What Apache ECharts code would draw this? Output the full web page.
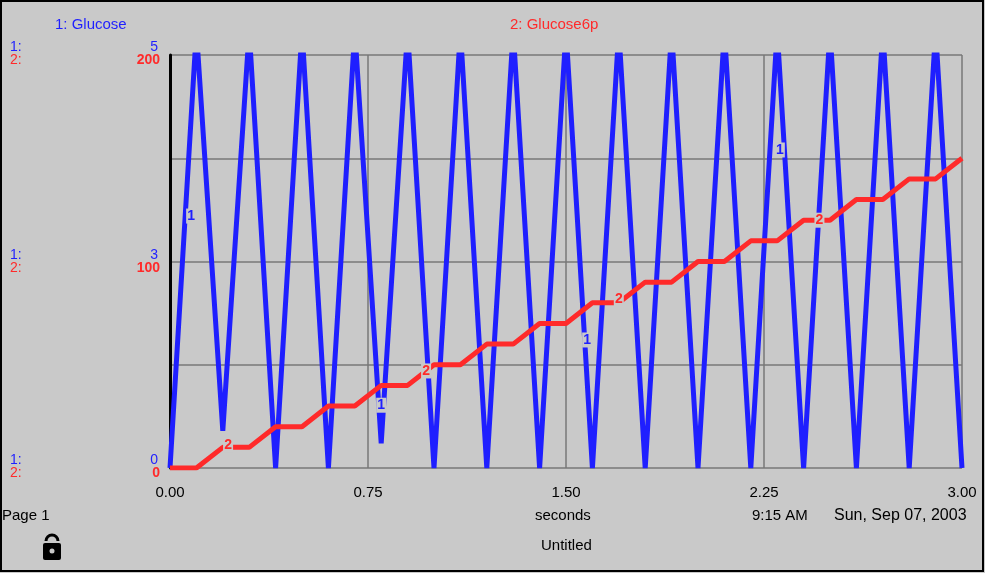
<!DOCTYPE html>
<html>
<head>
<meta charset="utf-8">
<script src="https://cdn.jsdelivr.net/npm/echarts@6/dist/echarts.min.js"></script>
<style>
  html, body { margin: 0; padding: 0; background: #c9c9c9; }
  #chart { width: 985px; height: 573px; }
</style>
</head>
<body>
<div id="chart"></div>
<script>
// time (seconds) and values
const glucoseTime = [0, 0.1, 0.2, 0.3, 0.4, 0.5, 0.6, 0.7, 0.8, 0.9, 1.0, 1.1, 1.2, 1.3, 1.4, 1.5,
  1.6, 1.7, 1.8, 1.9, 2.0, 2.1, 2.2, 2.3, 2.4, 2.5, 2.6, 2.7, 2.8, 2.9, 3.0];
const glucose = [0, 5.3, 0.45, 5.3, 0, 5.3, 0, 5.3, 0.3, 5.3, 0, 5.3, 0, 5.3, 0, 5.3,
  0, 5.3, 0, 5.3, 0, 5.3, 0, 5.3, 0, 5.3, 0, 5.3, 0, 5.3, 0];

const g6pTime = [0, 0.1, 0.2, 0.3, 0.4, 0.5, 0.6, 0.7, 0.8, 0.9, 1.0, 1.1, 1.2, 1.3, 1.4, 1.5,
  1.6, 1.7, 1.8, 1.9, 2.0, 2.1, 2.2, 2.3, 2.4, 2.5, 2.6, 2.7, 2.8, 2.9, 3.0];
const g6p = [0, 0, 10, 10, 20, 20, 30, 30, 40, 40, 50, 50, 60, 60, 70, 70,
  80, 80, 90, 90, 100, 100, 110, 110, 120, 120, 130, 130, 140, 140, 150];

const glucoseMarks = [[0.08, 3.05], [0.8, 0.76], [1.58, 1.55], [2.31, 3.85]];
const g6pMarks = [[0.22, 11], [0.97, 47], [1.7, 82], [2.46, 120]];

const xTicks = ["0.00", "0.75", "1.50", "2.25", "3.00"];

const BLUE = "#1f1fff", RED = "#ff2a2a";

function pairs(xs, ys) { return xs.map((x, i) => [x, ys[i]]); }

function marks(list, text, color) {
  return {
    symbol: "rect", symbolSize: [10, 15],
    itemStyle: { color: "#c9c9c9" },
    label: { show: true, position: "inside", formatter: text, color: color,
      fontFamily: "Liberation Sans", fontSize: 14, fontWeight: "bold" },
    data: list.map(p => ({ coord: p }))
  };
}

var chart = echarts.init(document.getElementById("chart"));
const font = "Liberation Sans";

const sideText = [];
[[55, 5, 200], [263, 3, 100], [468, 0, 0]].forEach(function (r) {
  sideText.push({ type: "text", left: 10, top: r[0] - 15, style: { text: "1:", fill: BLUE, font: "14px " + font } });
  sideText.push({ type: "text", left: 10, top: r[0] - 2, style: { text: "2:", fill: RED, font: "14px " + font } });
  sideText.push({ type: "text", right: 985 - 158, top: r[0] - 15, style: { text: String(r[1]), fill: BLUE, font: "14px " + font, align: "right" } });
  sideText.push({ type: "text", right: 985 - 160, top: r[0] - 2, style: { text: String(r[2]), fill: RED, font: "bold 14px " + font, align: "right" } });
});

chart.setOption({
  backgroundColor: "#c9c9c9",
  animation: false,
  grid: { left: 170, right: 23, top: 55, bottom: 105 },
  xAxis: {
    type: "value", min: 0, max: 3, interval: 0.75,
    axisLine: { show: false }, axisTick: { show: false },
    axisLabel: { color: "#000", fontFamily: font, fontSize: 15, margin: 17,
      formatter: v => xTicks[Math.round(v / 0.75)] },
    splitLine: { show: true, lineStyle: { color: "#777", width: 1.5 } }
  },
  yAxis: [
    { type: "value", min: 0, max: 5, interval: 1.25,
      axisLine: { show: true, lineStyle: { color: "#000", width: 3 } },
      axisTick: { show: false }, axisLabel: { show: false },
      splitLine: { show: true, lineStyle: { color: "#777", width: 1.5 } } },
    { type: "value", min: 0, max: 200, interval: 50, position: "left",
      axisLine: { show: false }, axisTick: { show: false }, axisLabel: { show: false },
      splitLine: { show: false } }
  ],
  series: [
    { name: "1: Glucose", type: "line", data: pairs(glucoseTime, glucose), yAxisIndex: 0,
      symbol: "none", clip: true, lineStyle: { color: BLUE, width: 5 }, z: 3,
      markPoint: marks(glucoseMarks, "1", BLUE) },
    { name: "2: Glucose6p", type: "line", data: pairs(g6pTime, g6p), yAxisIndex: 1,
      symbol: "none", lineStyle: { color: RED, width: 5 }, z: 4,
      markPoint: marks(g6pMarks, "2", RED) }
  ],
  graphic: sideText.concat([
    { type: "rect", shape: { x: 1, y: 1, width: 982, height: 570 }, style: { fill: "none", stroke: "#000", lineWidth: 2 } },
    { type: "text", left: 55, top: 17, style: { text: "1: Glucose", fill: BLUE, font: "15px " + font } },
    { type: "text", left: 510, top: 17, style: { text: "2: Glucose6p", fill: RED, font: "15px " + font } },
    { type: "text", left: 2, top: 508, style: { text: "Page 1", fill: "#000", font: "15px " + font } },
    { type: "text", left: 535, top: 508, style: { text: "seconds", fill: "#000", font: "15px " + font } },
    { type: "text", left: 752, top: 508, style: { text: "9:15 AM", fill: "#000", font: "15px " + font } },
    { type: "text", left: 834, top: 508, style: { text: "Sun, Sep 07, 2003", fill: "#000", font: "16px " + font } },
    { type: "text", left: 541, top: 538, style: { text: "Untitled", fill: "#000", font: "15px " + font } },
    { type: "arc", shape: { cx: 52, cy: 541, r: 6, startAngle: Math.PI, endAngle: 0 }, style: { stroke: "#000", lineWidth: 3, fill: "none" } },
    { type: "rect", shape: { x: 43, y: 543, width: 18, height: 17, r: 2 }, style: { fill: "#000" } },
    { type: "circle", shape: { cx: 52, cy: 551, r: 2.5 }, style: { fill: "#c9c9c9" } }
  ])
});
</script>
</body>
</html>
